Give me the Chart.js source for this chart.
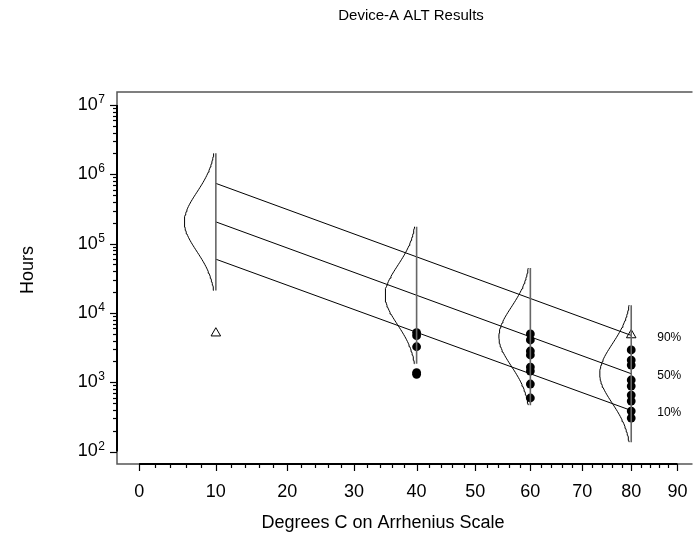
<!DOCTYPE html>
<html><head><meta charset="utf-8">
<script src="https://cdn.jsdelivr.net/npm/chart.js@4.4.0/dist/chart.umd.min.js"></script>
<style>html,body{margin:0;padding:0;background:#fff;}#wrap{width:699px;height:542px;position:relative;}</style>
</head><body><div id="wrap"><canvas id="c" width="699" height="542"></canvas></div>
<script>
// ---- data ----
const distTemps = [10, 40, 60, 80];
const distMedians = [206000, 18000, 4550, 1330];
const sigmaLog10 = 0.425;
const lineTemps = [10, 80];
const line90 = [740000, 4740];
const line50 = [206000, 1327];
const line10 = [59600, 391];
const fail40 = [5200, 4700, 3250, 1380, 1300];
const fail60 = [4970, 4070, 2820, 2470, 1655, 1450, 942, 592];
const fail80 = [2920, 2090, 1770, 1077, 881, 653, 535, 384, 304];
const suspTemps = [10, 80];
const suspHours = [5100, 4800];
const xTickLabels = [0, 10, 20, 30, 40, 50, 60, 70, 80, 90];
const yTickExponents = [2, 3, 4, 5, 6, 7];
const pctLabels = ['90%', '50%', '10%'];

// ---- scale helpers ----
const arr = t => -10000 / (t + 273.15);
const X_MIN = arr(0) - 0.373, X_MAX = arr(90) + 0.253;
const Y_MIN = Math.pow(10, 1.82), Y_MAX = Math.pow(10, 7.188);
const CURVE_W = 0.53;
const Z_SPAN = 2.326;
const FONT = '"Liberation Sans", Arial, sans-serif';

function curve(T, med) {
  const pts = [];
  for (let i = 0; i <= 80; i++) {
    const z = -Z_SPAN + 2 * Z_SPAN * i / 80;
    pts.push({x: arr(T) - CURVE_W * Math.exp(-z * z / 2), y: med * Math.pow(10, z * sigmaLog10)});
  }
  return pts;
}
function vline(T, med) {
  return [{x: arr(T), y: med * Math.pow(10, -Z_SPAN * sigmaLog10)}, {x: arr(T), y: med * Math.pow(10, Z_SPAN * sigmaLog10)}];
}
const lineDs = v => ({type: 'line', data: lineTemps.map((t, i) => ({x: arr(t), y: v[i]})), borderColor: '#000', borderWidth: 1, pointRadius: 0, showLine: true, fill: false});

const datasets = [];
distTemps.forEach((t, i) => {
  datasets.push({data: vline(t, distMedians[i]), showLine: true, borderColor: '#666', borderWidth: 1.6, pointRadius: 0});
  datasets.push({data: curve(t, distMedians[i]), showLine: true, borderColor: '#000', borderWidth: 1, pointRadius: 0, tension: 0});
});
datasets.push(lineDs(line90), lineDs(line50), lineDs(line10));
[[40, fail40], [60, fail60], [80, fail80]].forEach(([t, vals]) => {
  datasets.push({data: vals.map(v => ({x: arr(t), y: v})), showLine: false, pointStyle: 'circle', pointRadius: 4.4, backgroundColor: '#000', borderColor: '#000', borderWidth: 0});
});
datasets.push({data: suspTemps.map((t, i) => ({x: arr(t), y: suspHours[i]})), showLine: false, pointStyle: 'triangle', pointRadius: 5.5, backgroundColor: '#fff', borderColor: '#000', borderWidth: 1});

const decor = {
  id: 'decor',
  afterDraw(chart) {
    const {ctx, chartArea: a, scales: {x, y}} = chart;
    ctx.save();
    // frame
    ctx.strokeStyle = '#555'; ctx.lineWidth = 1.5;
    ctx.beginPath();
    ctx.moveTo(a.right, a.top); ctx.lineTo(a.left, a.top); ctx.lineTo(a.left, a.bottom); ctx.lineTo(a.right, a.bottom);
    ctx.stroke();
    // x axis
    const x0 = x.getPixelForValue(arr(0)), x90 = x.getPixelForValue(arr(90));
    ctx.strokeStyle = '#000'; ctx.lineWidth = 2;
    ctx.beginPath(); ctx.moveTo(x0, a.bottom); ctx.lineTo(x90, a.bottom); ctx.stroke();
    ctx.lineWidth = 1.2;
    for (let t = 0; t <= 90; t += 2) {
      const px = Math.round(x.getPixelForValue(arr(t))) + 0.5;
      const major = t % 10 === 0;
      ctx.beginPath(); ctx.moveTo(px, a.bottom); ctx.lineTo(px, a.bottom + (major ? 7 : 4)); ctx.stroke();
    }
    ctx.fillStyle = '#000';
    ctx.font = '18px ' + FONT; ctx.textAlign = 'center'; ctx.textBaseline = 'middle';
    xTickLabels.forEach(t => ctx.fillText(String(t), x.getPixelForValue(arr(t)), 492));
    // y axis
    const ylo = y.getPixelForValue(1e2), yhi = y.getPixelForValue(1e7);
    ctx.lineWidth = 2;
    ctx.beginPath(); ctx.moveTo(a.left, ylo); ctx.lineTo(a.left, yhi); ctx.stroke();
    ctx.lineWidth = 1.2;
    for (let e = 2; e < 7; e++) {
      for (let m = 1; m <= 9; m++) {
        const py = Math.round(y.getPixelForValue(m * Math.pow(10, e))) + 0.5;
        ctx.beginPath(); ctx.moveTo(a.left, py); ctx.lineTo(a.left - (m === 1 ? 7 : 4), py); ctx.stroke();
      }
    }
    { const py = Math.round(yhi) + 0.5; ctx.beginPath(); ctx.moveTo(a.left, py); ctx.lineTo(a.left - 7, py); ctx.stroke(); }
    yTickExponents.forEach(e => {
      const py = y.getPixelForValue(Math.pow(10, e));
      ctx.font = '12px ' + FONT; ctx.textAlign = 'right'; ctx.textBaseline = 'alphabetic';
      const ew = ctx.measureText(String(e)).width;
      ctx.fillText(String(e), 105, py - 2);
      ctx.font = '18px ' + FONT; ctx.textBaseline = 'middle';
      ctx.fillText('10', 105 - ew - 0.5, py);
    });
    // percent labels
    ctx.font = '12px ' + FONT; ctx.textAlign = 'left'; ctx.textBaseline = 'middle';
    const xe = x.getPixelForValue(arr(lineTemps[1])) + 26;
    [line90, line50, line10].forEach((v, i) => ctx.fillText(pctLabels[i], xe, y.getPixelForValue(v[1]) + 2));
    // titles
    ctx.font = '15px ' + FONT; ctx.textAlign = 'center';
    ctx.fillText('Device-A ALT Results', 411, 16);
    ctx.font = '18px ' + FONT;
    ctx.fillText('Degrees C on Arrhenius Scale', 383, 523);
    ctx.translate(28, 270); ctx.rotate(-Math.PI / 2);
    ctx.fillText('Hours', 0, 0);
    ctx.restore();
  }
};

new Chart(document.getElementById('c'), {
  type: 'scatter',
  data: {datasets},
  options: {
    responsive: false, animation: false, devicePixelRatio: 1,
    layout: {padding: {left: 117, right: 0, top: 92, bottom: 78}},
    scales: {
      x: {type: 'linear', display: false, min: X_MIN, max: X_MAX, bounds: 'data'},
      y: {type: 'logarithmic', display: false, min: Y_MIN, max: Y_MAX, bounds: 'data'}
    },
    plugins: {legend: {display: false}, tooltip: {enabled: false}}
  },
  plugins: [decor]
});
</script></body></html>
